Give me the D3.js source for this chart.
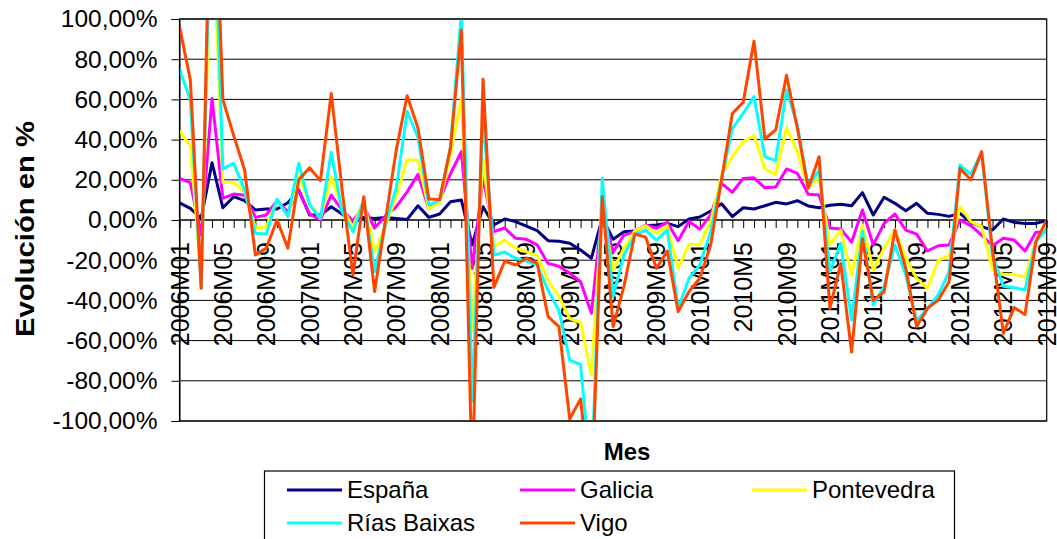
<!DOCTYPE html>
<html><head><meta charset="utf-8">
<script src="https://cdn.jsdelivr.net/npm/d3@7"></script>
<style>
body{margin:0;background:#fff}
svg{display:block}
text{font-family:"Liberation Sans",Arial,sans-serif;fill:#000}
</style>
</head><body><svg id="c" width="1057" height="539"></svg>
<script>
// Categories: monthly 2006M01 .. 2012M09
const months = [];
for (let yr = 2006; yr <= 2012; yr++) {
  for (let m = 1; m <= 12; m++) {
    if (yr === 2012 && m > 9) break;
    months.push(yr + "M" + String(m).padStart(2, "0"));
  }
}
// Tick labels shown every 4 months (as written in the original)
const tickLabels = ["2006M01","2006M05","2006M09","2007M01","2007M05","2007M09","2008M01","2008M05","2008M09","2009M01","2009M05","2009M09","2010M01","2010M5","2010M09","2011M01","2011M05","2011M09","2012M01","2012M05","2012M09"];
const yTicks = [-100,-80,-60,-40,-20,0,20,40,60,80,100];

const seriesNames = ["España","Galicia","Pontevedra","Rías Baixas","Vigo"];
const seriesColors = ["#000080","#FF00FF","#FFFF00","#00FFFF","#FF4500"];

const espana = [8.6,5.8,0.8,28.5,6.1,11.6,9.6,5,5.5,5.5,8.6,14.9,2.5,2.5,6.6,3,-1.3,1.3,0.8,1.3,0.8,0.3,7.1,1.3,3,9.1,10,-12.4,6.6,-2.5,0.5,-0.8,-3,-5.3,-10.3,-10.6,-11.6,-14.9,-19,1,-9.6,-5.8,-5.5,-2.8,-2.5,-1.7,-3.3,0.5,1.5,4.5,8.1,1.7,6.1,5.5,7.1,8.8,8,9.6,7,6.1,7.3,7.8,7.1,13.6,2.5,11.3,8.3,4.6,8.3,3.3,2.8,1.8,3.3,-1.2,-3.3,-5,0.5,-1.2,-1.7,-1.7,-0.3];
const galicia = [20.7,18.6,-7.5,60.5,10.8,12.9,12.3,1.3,2.5,9.6,4,15,3,0,12.4,5,-0.5,6.6,-4,2,6.6,14,22.7,5.6,10,23,34,-24,21,-5.8,-4,-9.1,-9.6,-12.4,-21.6,-23,-26.5,-30.7,-46.4,5,-16,-7.5,-5.8,-2.5,-4.1,-1.2,-10.3,-0.8,-4.5,2.5,18.2,13.8,20.7,21,16,16.4,25.4,23.2,12.8,12.4,-4,-4.5,-11,5,-12.4,-1.7,3,-5,-7,-15.4,-12.8,-12.4,0,-2.8,-7.5,-12.8,-9.1,-10,-15.4,-6.1,-6];
const pontevedra = [44.4,36.8,-28,160,18.6,18.6,14,-4,-3.6,10,1.7,22,8,0.8,21.5,5.8,-3.5,10,-16,-3,11.6,30,29.7,5.6,8.5,32.3,60.5,-55,30,-13.3,-10,-14,-15.8,-17.7,-30,-38,-49,-51,-77,8,-25,-14,-5.5,-2.8,-6.6,-2.8,-24,-12.1,-12.4,-0.8,22.4,31.5,39,42,25.4,22.7,46,34,15.8,21.6,-12.4,-5,-27.4,-2.5,-24.9,-14,-5,-19,-29,-34,-20,-17.7,6.6,-0.8,-3.3,-24.4,-27,-27,-28.7,-10.8,-3];
const riasBaixas = [75.1,59.7,-34,190,25.4,28.2,15,-6.6,-7,10.4,1.7,28.2,7.5,0.8,33.7,4.1,-5.8,10,-25.7,-2,16,54,41,7.5,9.8,36.5,103,-90,52,-17.4,-16,-19,-20.4,-22.4,-35,-45,-69.7,-72,-130,20.7,-38,-17.4,-7.5,-5,-10,-5,-44,-29,-22.4,-5.8,20,45.6,53,61.4,31.5,29.5,64.7,47.3,16.6,24.9,-25.7,-11.6,-49.8,-5.5,-42.3,-33,-12.4,-27.4,-50.2,-44,-37.3,-25.7,27.4,22.7,33.7,-18,-33,-33.7,-34.8,-10.8,-4.5];
const vigo = [96.2,69.7,-34,210,60,42,25,-17.4,-14,0,-14,20,26,19.6,63,15,-27.4,11.6,-35.6,0,35,61.8,45.8,10.4,10.2,36,94.5,-130,70,-33.5,-20.5,-22.4,-19,-21.6,-48,-53,-99,-89,-140,11.6,-53,-33,-7,-8.5,-24,-15.4,-45.6,-35.7,-29,-12.4,19.9,53,58.5,89,40.3,44.8,72,45.6,15.8,31.5,-44,-21.6,-65.7,-9.5,-40,-35.7,-5,-24,-53,-44,-39.8,-30.7,25.7,19.9,34,-15,-56.4,-43.6,-47,-10.8,0];

const seriesData = [espana, galicia, pontevedra, riasBaixas, vigo];

const L = 179.5, R = 1046.7, T = 19, B = 421;
const svg = d3.select("#c");
const x = d3.scalePoint().domain(months).range([L, R]);
const y = d3.scaleLinear().domain([-100, 100]).range([B, T]);

svg.append("defs").append("clipPath").attr("id","clip")
  .append("rect").attr("x",L).attr("y",T).attr("width",R-L).attr("height",B-T);

// gridlines
svg.append("g").selectAll("line").data(yTicks).join("line")
  .attr("x1",L).attr("x2",R).attr("y1",d=>y(d)).attr("y2",d=>y(d))
  .attr("stroke","#000").attr("stroke-width",1);

// y axis
const fmt = d3.formatLocale({decimal: ",", thousands: ".", grouping: [3], currency: ["", "€"], minus: "-"}).format(".2f");
const yAxis = d3.axisLeft(y).tickValues(yTicks).tickSize(8).tickPadding(14)
  .tickFormat(d => fmt(d) + "%");
const gy = svg.append("g").attr("transform",`translate(${L},0)`).call(yAxis);
gy.selectAll("text").style("font-size","24.5px").attr("fill","#000");
gy.selectAll("line,path").attr("stroke","#000");

// x axis at 0
const xAxis = d3.axisBottom(x).tickSize(8).tickFormat("");
const gx = svg.append("g").attr("transform",`translate(0,${y(0)})`).call(xAxis);
gx.select(".domain").attr("d",`M${L},0H${R}`);
gx.selectAll("line,path").attr("stroke","#000");

// x tick labels (rotated)
svg.append("g").selectAll("text").data(tickLabels).join("text")
  .attr("transform",(d,i)=>`translate(${x(months[i*4])},${y(0)+22}) rotate(-90)`)
  .attr("text-anchor","end").attr("dy","0.36em")
  .style("font-size","25px").text(d=>d);

// lines
const line = d3.line().x((d,i)=>x(months[i])).y(d=>y(d));
svg.append("g").attr("clip-path","url(#clip)").selectAll("path").data(seriesData).join("path")
  .attr("d",line).attr("fill","none")
  .attr("stroke",(d,i)=>seriesColors[i]).attr("stroke-width",3)
  .attr("stroke-linejoin","round");

// plot border
svg.append("rect").attr("x",L).attr("y",T).attr("width",R-L).attr("height",B-T)
  .attr("fill","none").attr("stroke","#000").attr("stroke-width",1.2);

// axis titles
svg.append("text").attr("transform",`translate(25,229) rotate(-90)`)
  .attr("text-anchor","middle").attr("dy","0.35em")
  .attr("textLength",216).attr("lengthAdjust","spacingAndGlyphs")
  .style("font-size","25px").style("font-weight","bold").text("Evolución en %");
svg.append("text").attr("x",627).attr("y",452).attr("text-anchor","middle").attr("dy","0.35em")
  .style("font-size","24px").style("font-weight","bold").text("Mes");

// legend
const lg = svg.append("g");
lg.append("rect").attr("x",264.5).attr("y",471).attr("width",690).attr("height",80)
  .attr("fill","#fff").attr("stroke","#000").attr("stroke-width",1.2);
const colX = [287, 520, 752];
const rowY = [490, 523];
const items = lg.selectAll("g.item").data(seriesNames).join("g").attr("class","item")
  .attr("transform",(d,i)=>`translate(${colX[i%3]},${rowY[Math.floor(i/3)]})`);
items.append("line").attr("x1",0).attr("x2",55).attr("y1",0).attr("y2",0)
  .attr("stroke",(d,i)=>seriesColors[i]).attr("stroke-width",3);
items.append("text").attr("x",60).attr("dy","0.35em").style("font-size","24px").text(d=>d);
</script>
</body></html>
